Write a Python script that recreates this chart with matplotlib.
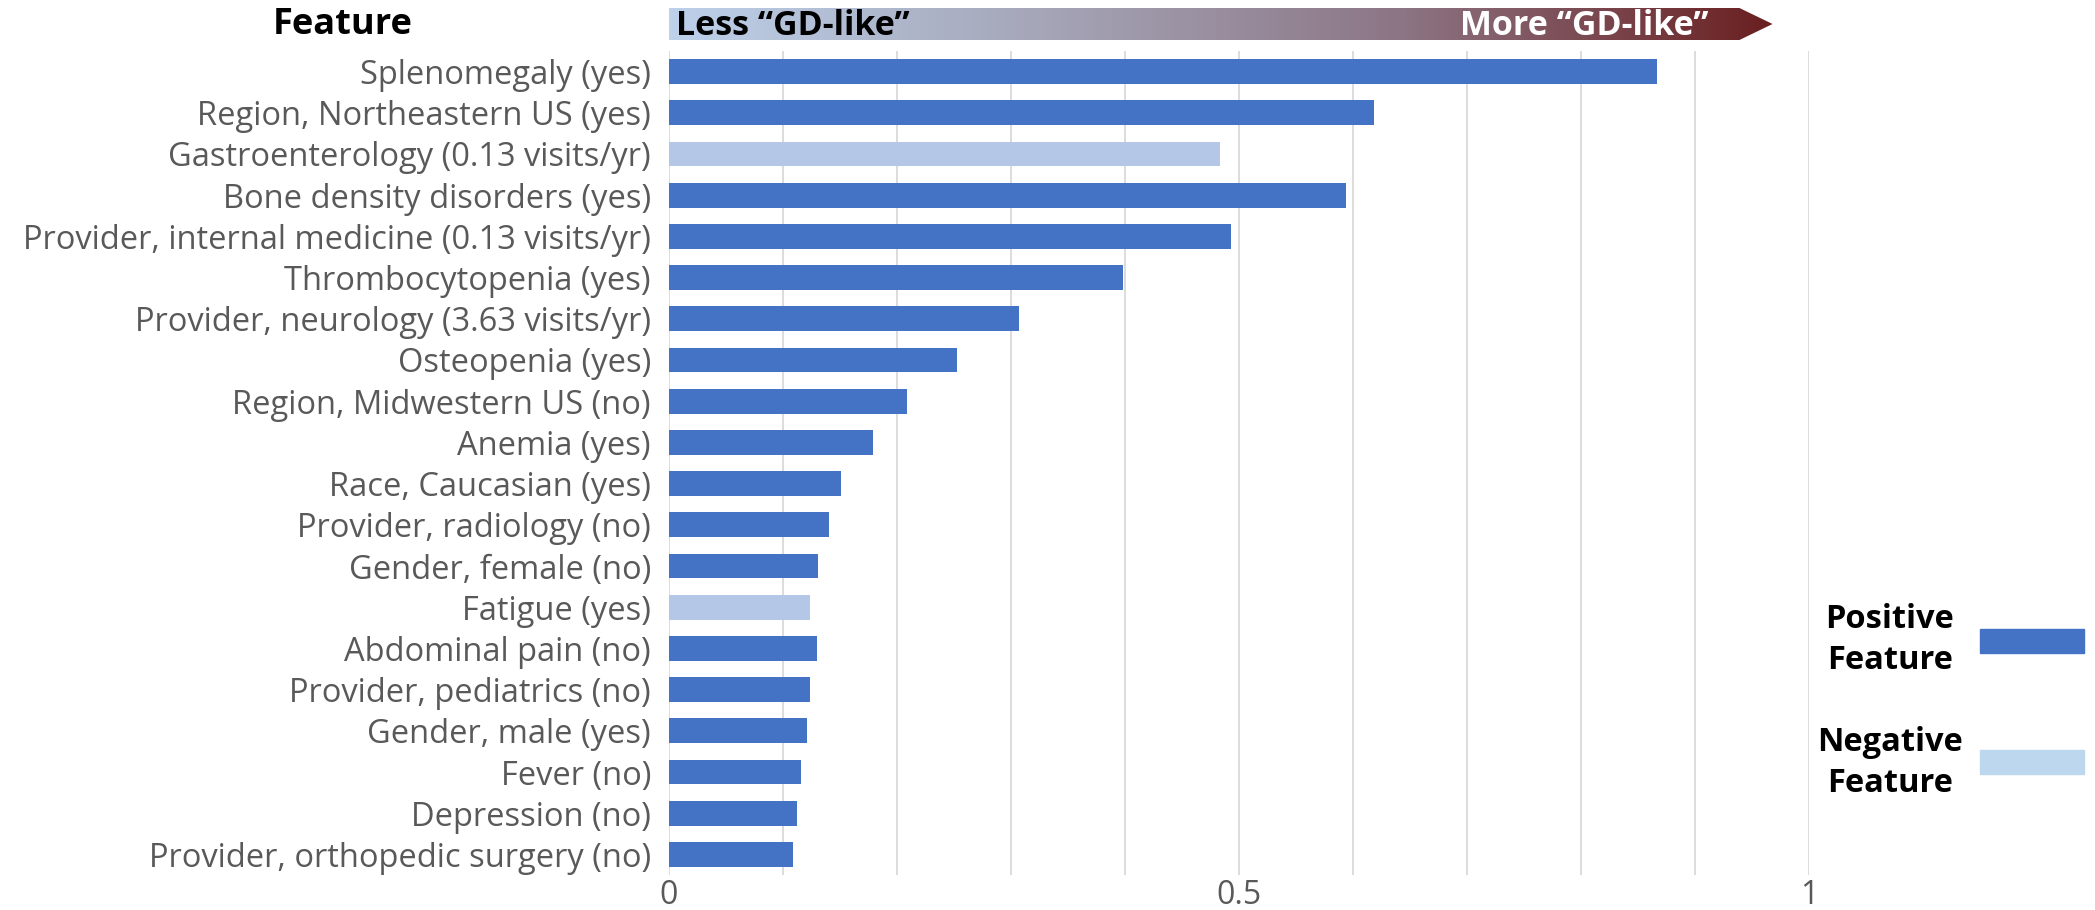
import numpy as np
import matplotlib
matplotlib.use("Agg")
import matplotlib.pyplot as plt
from matplotlib import font_manager
from matplotlib.colors import LinearSegmentedColormap
from matplotlib.patches import Polygon, Rectangle

# data
features = [
    "Splenomegaly (yes)",
    "Region, Northeastern US (yes)",
    "Gastroenterology (0.13 visits/yr)",
    "Bone density disorders (yes)",
    "Provider, internal medicine (0.13 visits/yr)",
    "Thrombocytopenia (yes)",
    "Provider, neurology (3.63 visits/yr)",
    "Osteopenia (yes)",
    "Region, Midwestern US (no)",
    "Anemia (yes)",
    "Race, Caucasian (yes)",
    "Provider, radiology (no)",
    "Gender, female (no)",
    "Fatigue (yes)",
    "Abdominal pain (no)",
    "Provider, pediatrics (no)",
    "Gender, male (yes)",
    "Fever (no)",
    "Depression (no)",
    "Provider, orthopedic surgery (no)",
]
importance = [0.867, 0.618, 0.483, 0.594, 0.493, 0.398, 0.307, 0.253, 0.209, 0.179,
              0.151, 0.140, 0.131, 0.124, 0.130, 0.124, 0.121, 0.116, 0.112, 0.109]
is_positive = [True, True, False, True, True, True, True, True, True, True,
               True, True, True, False, True, True, True, True, True, True]
tick_values = [0, 0.5, 1]
tick_labels = ["0", "0.5", "1"]

POS_COLOR = "#4472c4"
NEG_COLOR = "#b4c7e7"
LEG_NEG_COLOR = "#bdd7ee"
TEXT_GRAY = "#595959"

available = {f.name for f in font_manager.fontManager.ttflist}
if "Liberation Sans Narrow" in available:
    FONT = ["Liberation Sans Narrow", "DejaVu Sans"]
else:
    FONT = ["Open Sans", "DejaVu Sans"]
plt.rcParams["font.family"] = FONT

W, H = 2095, 910
fig = plt.figure(figsize=(W / 100, H / 100), dpi=100)

# main axes, placed in pixel coordinates of the reference
ax_left, ax_right, ax_top, ax_bottom = 669, 1809, 51, 875
ax = fig.add_axes([ax_left / W, 1 - ax_bottom / H,
                   (ax_right - ax_left) / W, (ax_bottom - ax_top) / H])

y = np.arange(len(features))
colors = [POS_COLOR if p else NEG_COLOR for p in is_positive]
ax.barh(y, importance, height=0.6, color=colors, zorder=3)

ax.set_xlim(0, 1)
ax.set_ylim(len(features) - 0.5, -0.5)
ax.set_xticks(np.arange(0, 1.001, 0.1), minor=True)
ax.set_xticks(tick_values)
ax.set_xticklabels(tick_labels)
ax.grid(True, axis="x", which="both", color="#d9d9d9", linewidth=1.3, zorder=0)
ax.set_yticks(y)
ax.set_yticklabels(features)
ax.tick_params(axis="y", length=0, pad=13, labelsize=23.5, labelcolor=TEXT_GRAY)
ax.tick_params(axis="x", which="both", length=0, pad=3, labelsize=23, labelcolor=TEXT_GRAY)
for s in ax.spines.values():
    s.set_visible(False)

fig.text(343 / W, 1 - 25 / H, "Feature", fontsize=26, fontweight="bold",
         ha="center", va="center", color="black")

# gradient arrow above the chart
arr_top, arr_bottom = 8, 40
ax_arr = fig.add_axes([ax_left / W, 1 - arr_bottom / H,
                       (ax_right - ax_left) / W, (arr_bottom - arr_top) / H])
ax_arr.set_xlim(0, 1)
ax_arr.set_ylim(0, 1)
ax_arr.axis("off")
body_end, tip = 0.939, 0.968
arrow = Polygon([(0, 0), (body_end, 0), (tip, 0.5), (body_end, 1), (0, 1)],
                closed=True, facecolor="none", edgecolor="none")
ax_arr.add_patch(arrow)
cmap = LinearSegmentedColormap.from_list(
    "gd", ["#bdd1ea", "#a5a6b8", "#8c7584", "#6a1f1f"])
grad = np.linspace(0, 1, 512).reshape(1, -1)
img = ax_arr.imshow(grad, cmap=cmap, aspect="auto", extent=[0, tip, 0, 1])
img.set_clip_path(arrow)
ax_arr.text(0.006, 0.45, "Less \u201cGD-like\u201d", fontsize=24.5, fontweight="bold",
            color="black", ha="left", va="center")
ax_arr.text(0.912, 0.45, "More \u201cGD-like\u201d", fontsize=24.5, fontweight="bold",
            color="white", ha="right", va="center")

# legend
fig.text(1890 / W, 1 - 640 / H, "Positive\nFeature", fontsize=23.5, fontweight="bold",
         ha="center", va="center", linespacing=1.35)
fig.text(1890 / W, 1 - 763 / H, "Negative\nFeature", fontsize=23.5, fontweight="bold",
         ha="center", va="center", linespacing=1.35)
fig.patches.append(Rectangle((1980 / W, 1 - 653 / H), 104 / W, 24 / H,
                             transform=fig.transFigure, color=POS_COLOR))
fig.patches.append(Rectangle((1980 / W, 1 - 774 / H), 104 / W, 24 / H,
                             transform=fig.transFigure, color=LEG_NEG_COLOR))

fig.savefig("out.png", dpi=100)
